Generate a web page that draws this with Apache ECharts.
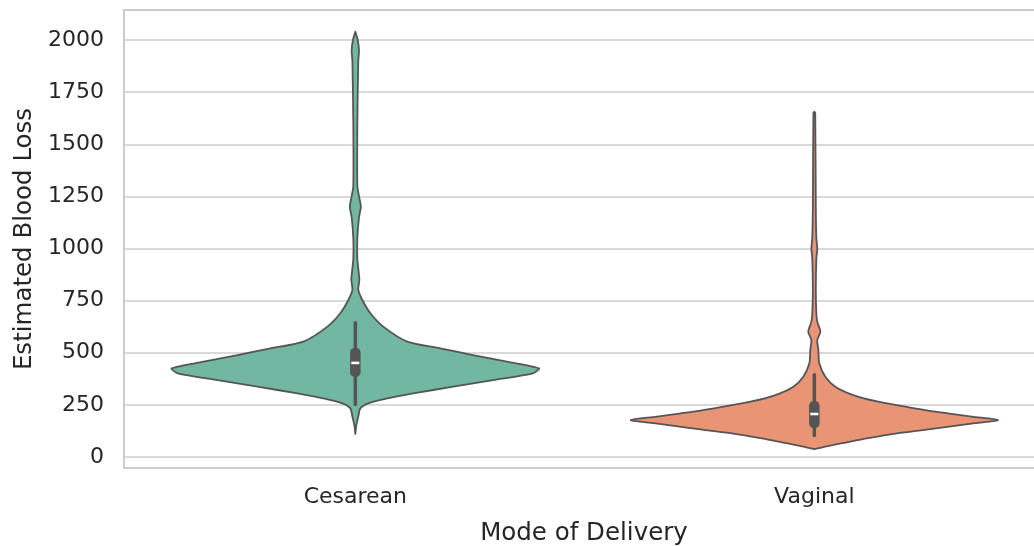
<!DOCTYPE html>
<html>
<head>
<meta charset="utf-8">
<script src="https://cdn.jsdelivr.net/npm/echarts@6/dist/echarts.min.js"></script>
<style>
html,body{margin:0;padding:0;background:#fff;}
#chart{width:1034px;height:546px;}
</style>
</head>
<body>
<div id="chart"></div>
<script>
// ---- data ----
const categories = ['Cesarean', 'Vaginal'];
const categoryPositions = [0, 1];
const yTicks = [0, 250, 500, 750, 1000, 1250, 1500, 1750, 2000];
// violin profiles: [blood loss value, normalized density (1 = widest)]
const cesareanDensity = [
  [110, 0], [150, 0.005], [194, 0.016], [233, 0.027], [257, 0.07], [281, 0.174],
  [305, 0.315], [337, 0.533], [369, 0.75], [401, 0.967], [425, 1.0], [457, 0.826],
  [489, 0.641], [521, 0.462], [553, 0.283], [625, 0.152], [689, 0.082], [753, 0.038],
  [801, 0.016], [850, 0.022], [880, 0.019], [950, 0.011], [1050, 0.011], [1150, 0.02],
  [1200, 0.03], [1250, 0.02], [1300, 0.011], [1600, 0.011], [1900, 0.016], [1950, 0.02],
  [2000, 0.013], [2040, 0]
];
const vaginalDensity = [
  [38, 0], [50, 0.06], [66, 0.152], [90, 0.293], [114, 0.457], [138, 0.674],
  [162, 0.875], [177, 1.0], [193, 0.859], [217, 0.658], [241, 0.495], [265, 0.348],
  [297, 0.212], [337, 0.114], [385, 0.06], [449, 0.027], [513, 0.022], [561, 0.016],
  [601, 0.033], [649, 0.016], [689, 0.011], [800, 0.008], [950, 0.011], [1000, 0.016],
  [1050, 0.011], [1200, 0.008], [1650, 0.005], [1656, 0]
];
// inner box: [whisker low, q1, median, q3, whisker high]
const cesareanBox = [245, 384, 451, 523, 652];
const vaginalBox = [96, 139, 206, 268, 403];

const densities = [cesareanDensity, vaginalDensity];
const boxes = [cesareanBox, vaginalBox];
const fillColors = ['#71b7a1', '#e99575'];
const lineColor = '#555555';
const frameColor = '#cccccc';

const chart = echarts.init(document.getElementById('chart'), null, {renderer: 'canvas'});

function renderViolin(params, api) {
  const idx = params.dataIndex;
  const pos = api.value(0);
  const dens = densities[idx];
  const band = api.size([1, 0])[0];
  const maxHalf = band * 0.4;
  const right = [], left = [];
  for (let i = 0; i < dens.length; i++) {
    const p = api.coord([pos, dens[i][0]]);
    right.push([p[0] + dens[i][1] * maxHalf, p[1]]);
    left.push([p[0] - dens[i][1] * maxHalf, p[1]]);
  }
  const pts = right.concat(left.reverse());
  const b = boxes[idx];
  const wl = api.coord([pos, b[0]]);
  const q1 = api.coord([pos, b[1]]);
  const med = api.coord([pos, b[2]]);
  const q3 = api.coord([pos, b[3]]);
  const wh = api.coord([pos, b[4]]);
  const cx = wl[0];
  const boxW = 10.5, whW = 3.5;
  return {
    type: 'group',
    children: [
      {
        type: 'polygon',
        shape: {points: pts, smooth: 0.25},
        style: {fill: fillColors[idx], stroke: lineColor, lineWidth: 1.8, lineJoin: 'round'}
      },
      {
        type: 'rect',
        shape: {x: cx - whW / 2, y: wh[1], width: whW, height: wl[1] - wh[1], r: 1.5},
        style: {fill: lineColor}
      },
      {
        type: 'rect',
        shape: {x: cx - boxW / 2, y: q3[1], width: boxW, height: q1[1] - q3[1], r: 4.5},
        style: {fill: lineColor}
      },
      {
        type: 'rect',
        shape: {x: cx - 4, y: med[1] - 1.3, width: 8, height: 2.6},
        style: {fill: '#ffffff'}
      }
    ]
  };
}

const option = {
  animation: false,
  backgroundColor: '#ffffff',
  grid: {
    left: 124, right: 0, top: 10, bottom: 78,
    outerBoundsMode: 'none', containLabel: false,
    show: false
  },
  xAxis: [{
    type: 'value',
    min: -0.504,
    max: 1.4786,
    position: 'bottom',
    name: 'Mode of Delivery',
    nameLocation: 'middle',
    nameGap: 53,
    nameTextStyle: {fontFamily: 'DejaVu Sans', fontSize: 24.5, color: '#262626', padding: [0, 0, 0, 10]},
    axisLine: {show: true, onZero: false, lineStyle: {color: frameColor, width: 2}},
    axisTick: {show: false, customValues: categoryPositions},
    axisLabel: {
      fontFamily: 'DejaVu Sans', fontSize: 22, color: '#262626', margin: 18,
      customValues: categoryPositions, formatter: v => categories[Math.round(v)]
    },
    splitLine: {show: false}
  }, {
    type: 'value',
    min: -0.504,
    max: 1.4786,
    position: 'top',
    axisLine: {show: true, onZero: false, lineStyle: {color: frameColor, width: 2}},
    axisTick: {show: false},
    axisLabel: {show: false},
    splitLine: {show: false}
  }],
  yAxis: {
    type: 'value',
    min: -53,
    max: 2144,
    name: 'Estimated Blood Loss',
    nameLocation: 'middle',
    nameGap: 76,
    nameTextStyle: {fontFamily: 'DejaVu Sans', fontSize: 24.5, color: '#262626'},
    axisLine: {show: true, onZero: false, lineStyle: {color: frameColor, width: 2}},
    axisTick: {show: false, customValues: yTicks},
    axisLabel: {
      fontFamily: 'DejaVu Sans', fontSize: 22, color: '#262626', margin: 20,
      customValues: yTicks, formatter: v => String(v)
    },
    splitLine: {show: true, lineStyle: {color: frameColor, width: 1.6}}
  },
  series: [{
    type: 'custom',
    renderItem: renderViolin,
    data: categoryPositions.map(p => [p]),
    encode: {x: 0},
    xAxisIndex: 0,
    clip: true,
    z: 3
  }]
};
chart.setOption(option);
</script>
</body>
</html>
